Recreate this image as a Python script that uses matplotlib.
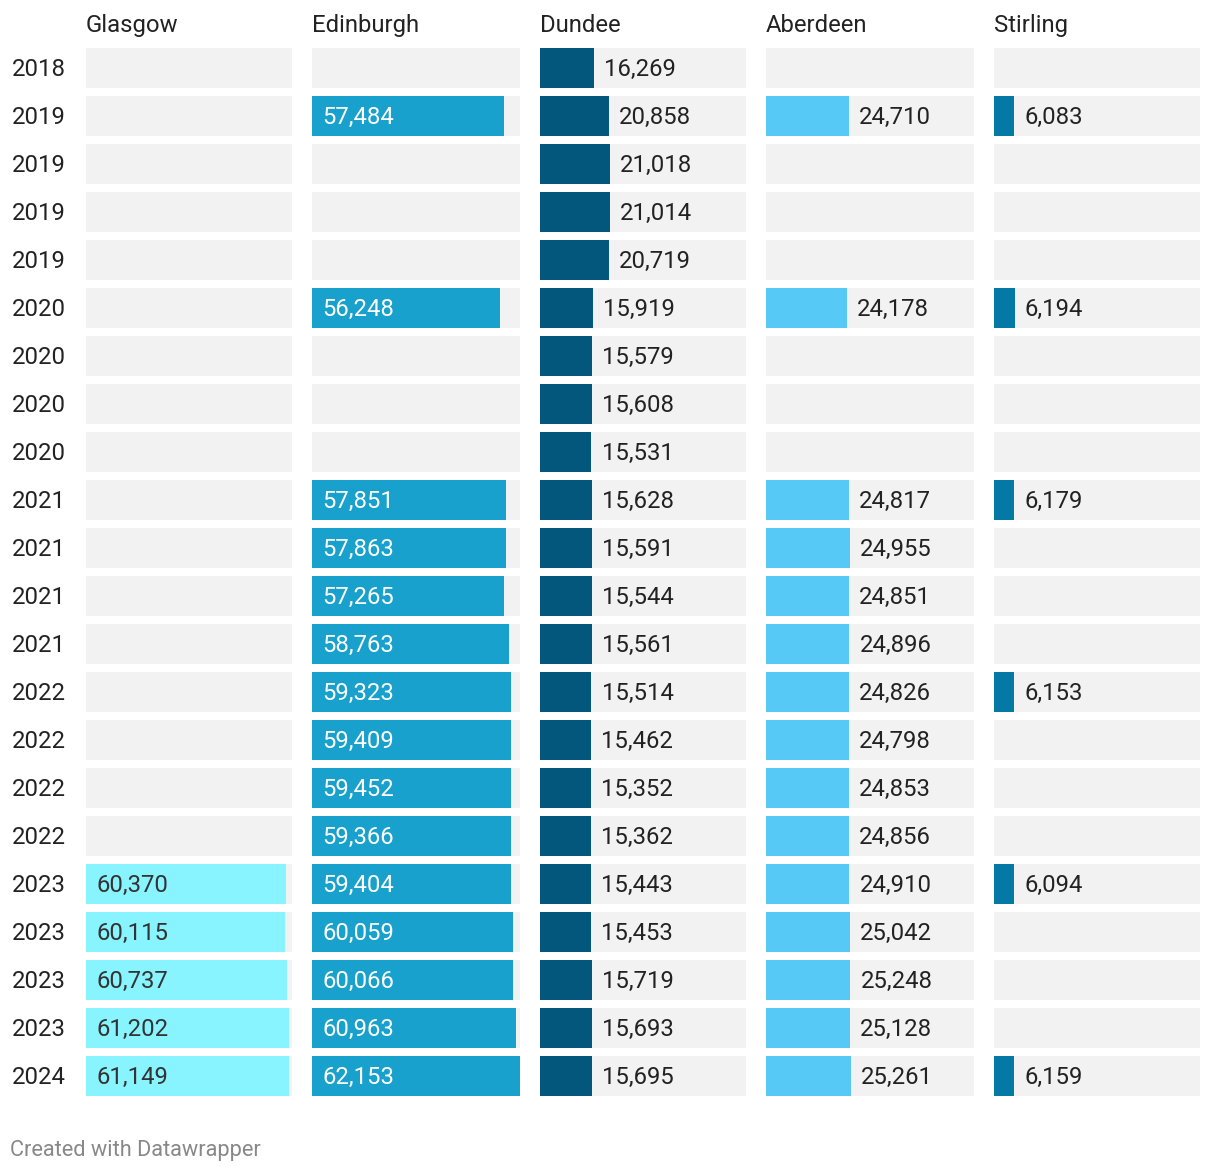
import numpy as np
import matplotlib.pyplot as plt

plt.rcParams['font.family'] = ['Roboto', 'DejaVu Sans']

# rows of the table
years = ['2018', '2019', '2019', '2019', '2019', '2020', '2020', '2020', '2020',
         '2021', '2021', '2021', '2021', '2022', '2022', '2022', '2022',
         '2023', '2023', '2023', '2023', '2024']

cities = ['Glasgow', 'Edinburgh', 'Dundee', 'Aberdeen', 'Stirling']

N = None
glasgow = [N] * 17 + [60370, 60115, 60737, 61202, 61149]
edinburgh = [N, 57484, N, N, N, 56248, N, N, N, 57851, 57863, 57265, 58763,
             59323, 59409, 59452, 59366, 59404, 60059, 60066, 60963, 62153]
dundee = [16269, 20858, 21018, 21014, 20719, 15919, 15579, 15608, 15531,
          15628, 15591, 15544, 15561, 15514, 15462, 15352, 15362,
          15443, 15453, 15719, 15693, 15695]
aberdeen = [N, 24710, N, N, N, 24178, N, N, N, 24817, 24955, 24851, 24896,
            24826, 24798, 24853, 24856, 24910, 25042, 25248, 25128, 25261]
stirling = [N, 6083, N, N, N, 6194, N, N, N, 6179, N, N, N,
            6153, N, N, N, 6094, N, N, N, 6159]

series = [glasgow, edinburgh, dundee, aberdeen, stirling]
colors = ['#88f4ff', '#18a1cd', '#03567c', '#57c9f7', '#0479a6']
inside = [True, True, False, False, False]
label_col = ['#333333', '#ffffff', '#222222', '#222222', '#222222']

W, H = 1220, 1172
fig = plt.figure(figsize=(W / 100, H / 100), dpi=100)

vmax = max(v for s in series for v in s if v is not None)
n = len(years)
row_px = 48
band_px = 40
top_px = 48
lefts = [86, 312, 540, 766, 994]
widths = [206, 208, 206, 208, 206]
axes_h = (n - 1) * row_px + band_px
band = band_px / row_px
fs = 17.2
up = 0.8  # small upward nudge of text, points

for k, (city, vals) in enumerate(zip(cities, series)):
    ax = fig.add_axes([lefts[k] / W, 1 - (top_px + axes_h) / H,
                       widths[k] / W, axes_h / H])
    ax.set_xlim(0, vmax)
    ax.set_ylim(n - 1 + band / 2, -band / 2)
    ax.axis('off')
    y = np.arange(n)
    ax.barh(y, [vmax] * n, height=band, color='#f2f2f2', lw=0)
    for i, v in enumerate(vals):
        if v is None:
            continue
        ax.barh(i, v, height=band, color=colors[k], lw=0)
        txt = f'{v:,}'
        x0 = 0 if inside[k] else v
        ax.annotate(txt, (x0, i), xytext=(7.3, up), textcoords='offset points',
                    ha='left', va='center_baseline', fontsize=fs,
                    color=label_col[k])
    ax.text(0.0, 1 + 25 / axes_h, city, transform=ax.transAxes,
            ha='left', va='center_baseline', fontsize=fs, color='#222222')
    if k == 0:
        for i, yr in enumerate(years):
            ax.annotate(yr, (0, i), xytext=(-74 * 0.72, up),
                        textcoords='offset points', ha='left',
                        va='center_baseline', fontsize=fs, color='#222222')

fig.text(10 / W, 1 - 1148 / H, 'Created with Datawrapper', ha='left',
         va='center_baseline', fontsize=15.7, color='#888888')

fig.savefig('out.png', dpi=100, facecolor='white')
